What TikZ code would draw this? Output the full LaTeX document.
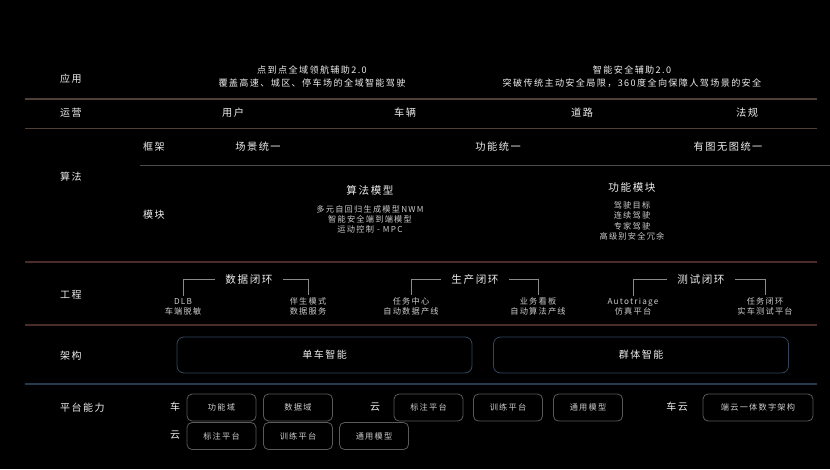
\documentclass[tikz,border=0pt]{standalone}
\usepackage{fontspec}
\setmainfont{Noto Sans CJK SC}[LetterSpace=15]
\definecolor{brownline}{HTML}{4E3F37}
\definecolor{redline}{HTML}{4A2D28}
\definecolor{blueline}{HTML}{283850}
\definecolor{grayline}{HTML}{4A4A4A}
\definecolor{boxblue}{HTML}{34465E}
\definecolor{boxgray}{HTML}{5A5A5A}
\definecolor{txt}{HTML}{EDEDED}
\definecolor{subtxt}{HTML}{CCCCCC}
\definecolor{brk}{HTML}{8A8A8A}
\tikzset{
  rowlabel/.style={anchor=west, text=txt, inner sep=0pt, font=\fontsize{10}{12}\selectfont},
  head/.style={text=txt, inner sep=1pt, align=center, font=\fontsize{10.2}{12}\selectfont},
  modtitle/.style={text=txt, inner sep=1pt, align=center, font=\fontsize{10.6}{12}\selectfont},
  apptext/.style={text=txt, inner sep=0pt, align=center, font=\fontsize{9.1}{13}\selectfont},
  small/.style={text=subtxt, inner sep=1pt, align=center, font=\fontsize{8.2}{10.3}\selectfont},
  looptitle/.style={text=txt, inner sep=0pt, font=\fontsize{10.6}{12}\selectfont},
  bigbox/.style={draw=boxblue, line width=0.8pt, rounded corners=7pt, minimum width=295pt, minimum height=36pt, text=txt, font=\fontsize{10}{12}\selectfont},
  platbox/.style={draw=boxgray, line width=0.8pt, rounded corners=5pt, minimum width=69pt, minimum height=27pt, text=subtxt, font=\fontsize{8.2}{10}\selectfont},
  sidelabel/.style={text=txt, inner sep=0pt, font=\fontsize{10}{12}\selectfont},
  sep/.style={line width=1.3pt},
  bracket/.style={draw=brk, line width=0.8pt}
}
\begin{document}
\begin{tikzpicture}[x=1pt,y=-1pt]
\fill[black] (0,0) rectangle (830,469);
\useasboundingbox (0,0) rectangle (830,469);

% separators
\draw[sep, brownline] (25,99) -- (817,99);
\draw[sep, brownline] (25,128.5) -- (817,128.5);
\draw[line width=1pt, grayline] (140,165.5) -- (830,165.5);
\draw[sep, redline] (25,262) -- (817,262);
\draw[sep, redline] (25,325) -- (817,325);
\draw[sep, blueline] (25,384) -- (817,384);

% row labels
\node[rowlabel] (lApp) at (60,79) {应用};
\node[rowlabel] (lOps) at (60,113) {运营};
\node[rowlabel] (lAlg) at (60,177) {算法};
\node[rowlabel] (lFrame) at (143,147) {框架};
\node[rowlabel] (lMod) at (143,215) {模块};
\node[rowlabel] (lEng) at (60,295) {工程};
\node[rowlabel] (lArch) at (60,356) {架构};
\node[rowlabel] (lPlat) at (60,408) {平台能力};

% application
\node[apptext] (app1) at (312,76.5) {点到点全域领航辅助2.0\\覆盖高速、城区、停车场的全域智能驾驶};
\node[apptext] (app2) at (632,76.5) {智能安全辅助2.0\\突破传统主动安全局限，360度全向保障人驾场景的安全};

% operations
\node[head] (oUser) at (233,113) {用户};
\node[head] (oCar) at (405,113) {车辆};
\node[head] (oRoad) at (582,113) {道路};
\node[head] (oLaw) at (747,113) {法规};

% framework
\node[head] (f1) at (258,147) {场景统一};
\node[head] (f2) at (498,147) {功能统一};
\node[head] (f3) at (728,147) {有图无图统一};

% modules
\node[modtitle] (mAlg) at (370,190) {算法模型};
\node[small] (mAlgT) at (370,219.5) {多元自回归生成模型NWM\\智能安全端到端模型\\运动控制 - MPC};
\node[modtitle] (mFun) at (632,187) {功能模块};
\node[small] (mFunT) at (632,221) {驾驶目标\\连续驾驶\\专家驾驶\\高级别安全冗余};

% engineering loops
\node[looptitle] (t1) at (249,279) {数据闭环};
\node[small] (e1) at (183,306.5) {DLB\\车端脱敏};
\node[small] (e2) at (308,306.5) {伴生模式\\数据服务};
\draw[bracket] ([xshift=-10pt]t1.west) -| ([yshift=1pt]e1.north);
\draw[bracket] ([xshift=10pt]t1.east) -| ([yshift=1pt]e2.north);

\node[looptitle] (t2) at (475,279) {生产闭环};
\node[small] (e3) at (411,306.5) {任务中心\\自动数据产线};
\node[small] (e4) at (538,306.5) {业务看板\\自动算法产线};
\draw[bracket] ([xshift=-10pt]t2.west) -| ([yshift=1pt]e3.north);
\draw[bracket] ([xshift=10pt]t2.east) -| ([yshift=1pt]e4.north);

\node[looptitle] (t3) at (701,279) {测试闭环};
\node[small] (e5) at (633,306.5) {Autotriage\\仿真平台};
\node[small] (e6) at (765,306.5) {任务闭环\\实车测试平台};
\draw[bracket] ([xshift=-10pt]t3.west) -| ([yshift=1pt]e5.north);
\draw[bracket] ([xshift=10pt]t3.east) -| ([yshift=1pt]e6.north);

% architecture
\node[bigbox] (a1) at (324.5,355) {单车智能};
\node[bigbox] (a2) at (641,355) {群体智能};

% platform
\node[sidelabel] (pCar) at (175,407) {车};
\node[platbox] (p1) at (221.5,407.5) {功能域};
\node[platbox] (p2) at (298,407.5) {数据域};
\node[sidelabel] (pCloud) at (375,407) {云};
\node[platbox] (p3) at (428.5,407.5) {标注平台};
\node[platbox] (p4) at (508,407.5) {训练平台};
\node[platbox] (p5) at (588,407.5) {通用模型};
\node[sidelabel] (pCarCloud) at (677,407) {车云};
\node[platbox, minimum width=110pt] (p6) at (758,407.5) {端云一体数字架构};

\node[sidelabel] (pCloud2) at (175,435) {云};
\node[platbox] (q1) at (221.5,436) {标注平台};
\node[platbox] (q2) at (298,436) {训练平台};
\node[platbox] (q3) at (374,436) {通用模型};
\end{tikzpicture}
\end{document}
